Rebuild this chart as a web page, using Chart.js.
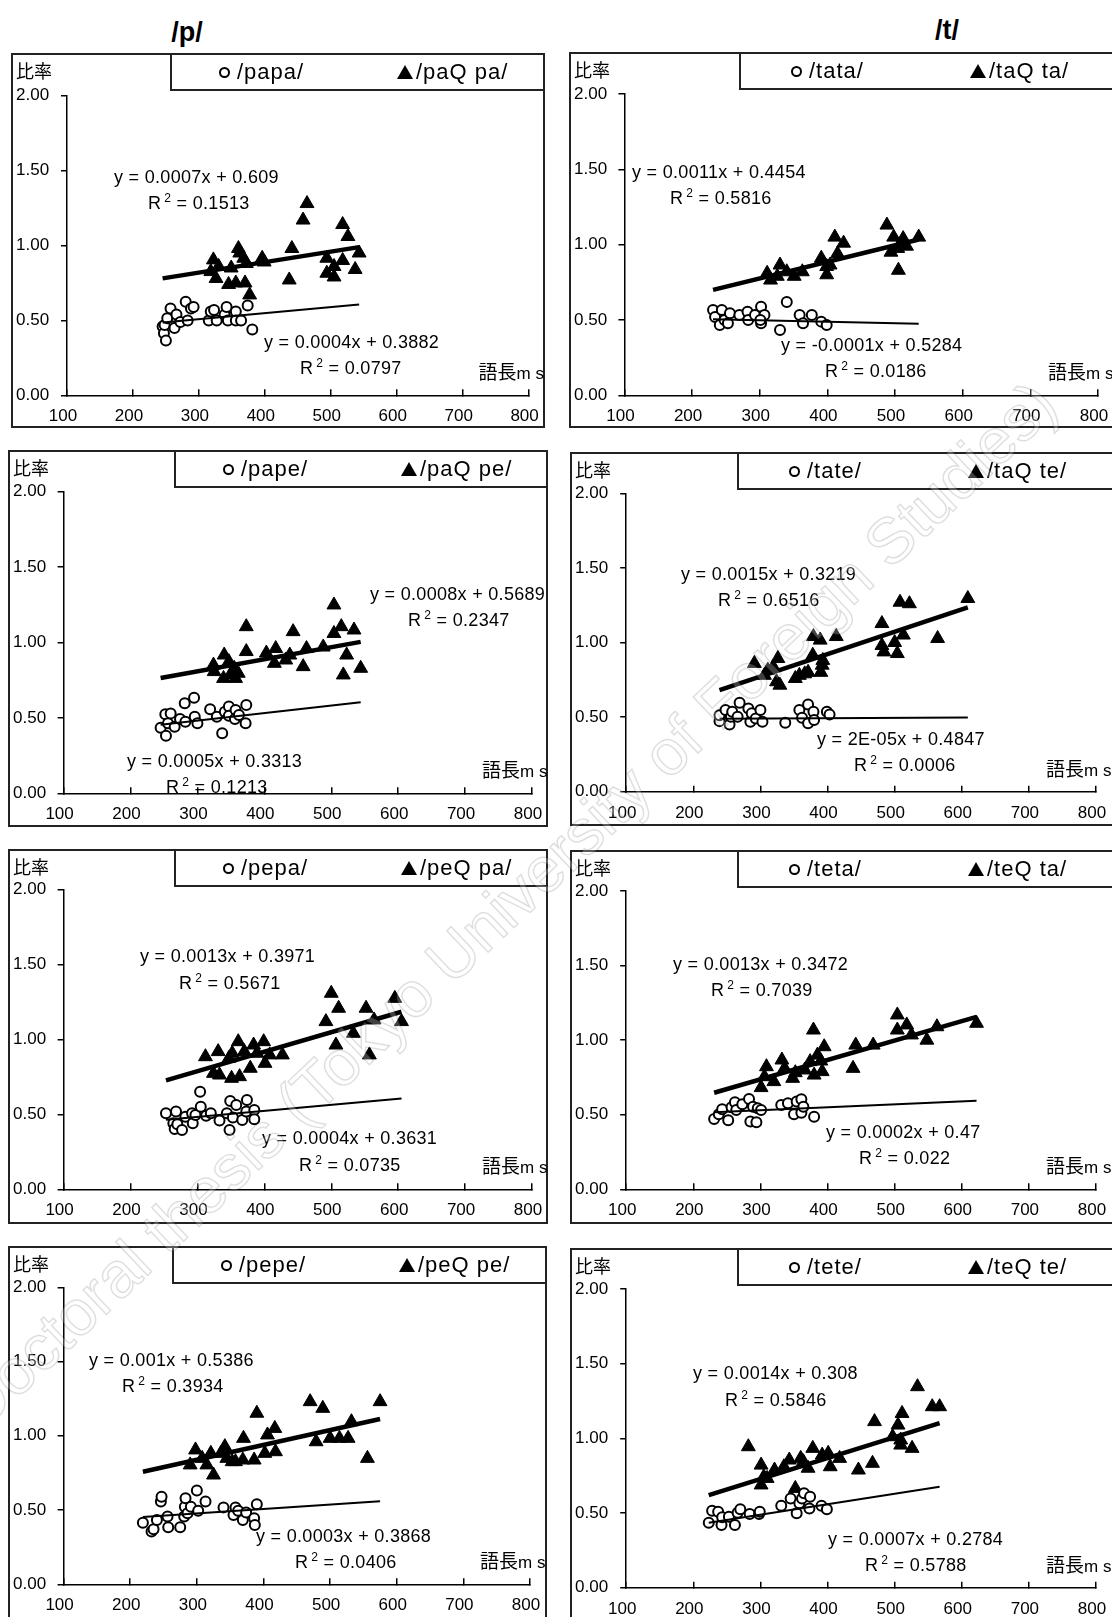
<!DOCTYPE html>
<html>
<head>
<meta charset="utf-8">
<script src="https://cdn.jsdelivr.net/npm/chart.js@4.4.1/dist/chart.umd.min.js"></script>
<style>
  body {
    margin: 0;
    width: 1112px;
    height: 1617px;
    overflow: hidden;
    background: #fff;
    position: relative;
    font-family: "Liberation Sans", Arial, sans-serif;
    color: #000;
  }
  .title { position: absolute; font-size: 27px; font-weight: bold; transform: translate(-50%, -50%); }
  .frame { position: absolute; border: 2px solid #222; box-sizing: border-box; background: #fff; }
  .frame canvas { position: absolute; left: 0; top: 0; }
  .legend { position: absolute; top: -2px; right: -2px; height: 38px; border: 2px solid #222; box-sizing: border-box; background: #fff; }
  .legtext { position: absolute; top: 0; line-height: 34px; font-size: 22px; letter-spacing: 1px; white-space: nowrap; }
  .circ { position: absolute; width: 11px; height: 11px; border: 2px solid #000; border-radius: 50%; box-sizing: border-box; top: 12px; }
  .tri { position: absolute; width: 0; height: 0; border-left: 8px solid transparent; border-right: 8px solid transparent; border-bottom: 14px solid #000; top: 10px; }
  .ratio { position: absolute; left: 3px; top: 4px; font-family: "Noto Sans CJK JP", sans-serif; font-size: 18px; line-height: 22px; }
  .unit { position: absolute; font-family: "Noto Sans CJK JP", sans-serif; font-size: 19px; line-height: 22px; white-space: nowrap; }
  .unit span { font-family: "Liberation Sans", Arial, sans-serif; font-size: 17px; }
  .eq { position: absolute; font-size: 18px; line-height: 20px; letter-spacing: 0.3px; white-space: nowrap; }
  .eq .sup { position: relative; top: -7px; font-size: 12px; margin: 0 0 0 3px; }
  .mark { position: absolute; left: 506px; top: 905px; transform: translate(-50%, -50%) rotate(-43.5deg);
    font-size: 64px; white-space: nowrap; color: rgba(255,255,255,0.25); -webkit-text-stroke: 1.5px rgba(0,0,0,0.13); pointer-events: none; }
</style>
</head>
<body>
<script>
// x = 語長 (ms), y = 比率 ; circles = plain word, triangles = geminate word
var papaPts = [[245,0.46],[247,0.415],[250,0.365],[248,0.47],[252,0.515],[257,0.58],[263,0.45],[266,0.54],[272,0.49],[280,0.625],[283,0.50],[288,0.58],[292,0.59],[315,0.50],[318,0.56],[323,0.57],[327,0.50],[339,0.537],[342,0.59],[344,0.50],[356,0.56],[356,0.50],[364,0.50],[374,0.60],[381,0.44]];
var paQpaPts = [[322,0.904],[318,0.826],[326,0.78],[330,0.86],[349,0.85],[345,0.74],[356,0.75],[360,0.98],[362,0.95],[368,0.915],[370,0.75],[377,0.67],[372,0.88],[396,0.915],[399,0.89],[437,0.77],[441,0.98],[458,1.17],[464,1.28],[494,0.915],[494,0.815],[505,0.86],[505,0.79],[518,0.90],[518,1.14],[526,1.06],[537,0.84],[543,0.95]];
var tataPts = [[231,0.566],[234,0.52],[241,0.467],[244,0.566],[248,0.50],[253,0.478],[256,0.544],[270,0.533],[282,0.555],[283,0.50],[293,0.533],[302,0.588],[302,0.478],[307,0.533],[301,0.50],[330,0.434],[340,0.62],[359,0.533],[364,0.478],[377,0.533],[391,0.489],[399,0.467]];
var taQtaPts = [[311,0.81],[316,0.765],[330,0.865],[326,0.79],[340,0.82],[351,0.79],[363,0.82],[391,0.91],[399,0.855],[399,0.80],[404,0.865],[411,1.05],[415,0.94],[424,1.01],[488,1.13],[494,0.95],[498,1.05],[505,0.83],[512,1.04],[517,0.99],[504,0.975],[535,1.05]];
var papePts = [[245,0.435],[252,0.524],[253,0.382],[256,0.464],[260,0.53],[266,0.442],[274,0.493],[281,0.597],[282,0.475],[295,0.634],[296,0.508],[300,0.464],[319,0.557],[329,0.508],[337,0.398],[341,0.541],[347,0.575],[347,0.515],[357,0.552],[356,0.493],[362,0.519],[373,0.585],[372,0.464]];
var paQpePts = [[324,0.85],[325,0.807],[340,0.917],[339,0.762],[347,0.873],[349,0.785],[355,0.829],[357,0.762],[361,0.796],[373,1.105],[373,0.94],[403,0.93],[415,0.862],[417,0.96],[432,0.884],[438,0.917],[443,1.072],[458,0.84],[463,0.96],[488,0.97],[504,1.249],[504,1.06],[515,1.105],[523,0.917],[518,0.785],[534,1.083],[544,0.829]];
var tatePts = [[239,0.473],[239,0.513],[248,0.547],[254,0.45],[256,0.502],[258,0.536],[269,0.596],[266,0.502],[282,0.558],[285,0.469],[287,0.525],[293,0.491],[300,0.547],[303,0.469],[337,0.462],[358,0.547],[362,0.496],[371,0.585],[371,0.458],[379,0.536],[380,0.48],[399,0.536],[403,0.518]];
var taQtePts = [[291,0.86],[306,0.78],[311,0.815],[319,0.837],[326,0.893],[324,0.737],[329,0.714],[352,0.759],[358,0.78],[366,0.79],[371,0.80],[378,0.915],[379,1.04],[389,1.016],[390,0.80],[392,0.848],[393,0.88],[413,1.04],[481,1.127],[481,0.98],[484,0.937],[500,1.00],[504,0.926],[508,1.27],[513,1.05],[522,1.26],[564,1.027],[609,1.295]];
var pepaPts = [[253,0.507],[264,0.44],[266,0.402],[268,0.518],[270,0.433],[277,0.396],[282,0.484],[292,0.507],[293,0.44],[297,0.496],[304,0.651],[305,0.551],[313,0.491],[320,0.507],[333,0.458],[344,0.507],[348,0.396],[349,0.589],[353,0.478],[358,0.562],[367,0.462],[373,0.518],[374,0.596],[385,0.529],[385,0.467]];
var peQpaPts = [[312,0.884],[324,0.773],[331,0.918],[333,0.762],[347,0.873],[352,0.907],[351,0.74],[361,0.984],[363,0.751],[370,0.918],[379,0.807],[384,0.962],[389,0.907],[399,0.984],[401,0.84],[408,0.896],[427,0.896],[492,1.118],[500,1.307],[507,0.962],[511,1.207],[533,1.04],[552,1.207],[557,0.896],[564,1.129],[595,1.273],[605,1.118]];
var tetaPts = [[231,0.472],[238,0.503],[243,0.536],[252,0.463],[257,0.55],[262,0.583],[264,0.532],[273,0.57],[283,0.606],[285,0.454],[289,0.554],[294,0.449],[296,0.543],[301,0.532],[331,0.565],[341,0.577],[350,0.503],[354,0.588],[361,0.603],[361,0.514],[364,0.554],[380,0.487]];
var teQtaPts = [[301,0.682],[306,0.755],[309,0.822],[320,0.722],[332,0.867],[336,0.811],[348,0.744],[352,0.782],[366,0.80],[374,0.856],[379,1.068],[380,0.766],[385,0.90],[390,0.86],[392,0.789],[395,0.956],[438,0.811],[442,0.967],[468,0.967],[504,1.169],[504,1.068],[518,1.102],[525,1.035],[548,1.00],[563,1.09],[622,1.113]];
var pepePts = [[219,0.415],[232,0.355],[235,0.37],[240,0.433],[246,0.557],[247,0.59],[256,0.456],[257,0.384],[275,0.384],[281,0.456],[282,0.523],[283,0.579],[286,0.478],[291,0.523],[300,0.631],[302,0.496],[313,0.557],[340,0.518],[355,0.467],[358,0.518],[362,0.496],[369,0.433],[374,0.483],[386,0.444],[387,0.40],[390,0.539]];
var peQpePts = [[290,0.804],[298,0.905],[308,0.848],[315,0.804],[321,0.882],[325,0.736],[336,0.882],[342,0.927],[345,0.848],[353,0.826],[358,0.826],[369,0.837],[370,0.983],[386,0.837],[390,1.152],[402,0.882],[406,1.006],[417,1.05],[418,0.893],[470,1.23],[479,0.96],[489,1.185],[500,0.983],[514,0.983],[527,0.983],[532,1.095],[556,0.848],[575,1.23]];
var tetePts = [[223,0.435],[228,0.516],[237,0.509],[242,0.42],[243,0.471],[253,0.475],[262,0.42],[266,0.502],[270,0.525],[284,0.493],[298,0.493],[299,0.509],[331,0.549],[345,0.598],[354,0.498],[358,0.565],[362,0.598],[365,0.632],[374,0.609],[373,0.531],[391,0.549],[399,0.525]];
var teQtePts = [[282,0.944],[301,0.821],[305,0.743],[301,0.688],[310,0.732],[321,0.788],[335,0.81],[343,0.855],[360,0.866],[364,0.844],[371,0.80],[378,0.933],[392,0.888],[401,0.90],[404,0.81],[418,0.866],[446,0.788],[467,0.833],[470,1.112],[497,1.011],[505,1.089],[509,0.989],[511,1.167],[509,0.955],[526,0.933],[534,1.346],[556,1.212],[567,1.212],[352,0.665]];

// panels in reading order: /papa/ /tata/ /pape/ /tate/ /pepa/ /teta/ /pepe/ /tete/
var plainSeries = [papaPts, tataPts, papePts, tatePts, pepaPts, tetaPts, pepePts, tetePts];
var gemSeries = [paQpaPts, taQtaPts, paQpePts, taQtePts, peQpaPts, teQtaPts, peQpePts, teQtePts];
var plainLabels = ["/papa/", "/tata/", "/pape/", "/tate/", "/pepa/", "/teta/", "/pepe/", "/tete/"];
var gemLabels = ["/paQ pa/", "/taQ ta/", "/paQ pe/", "/taQ te/", "/peQ pa/", "/teQ ta/", "/peQ pe/", "/teQ te/"];

// trend lines y = slope*x + intercept
var plainSlope = [0.0004, -0.0001, 0.0005, 0.00002, 0.0004, 0.0002, 0.0003, 0.0007];
var plainSlopeText = ["0.0004", "-0.0001", "0.0005", "2E-05", "0.0004", "0.0002", "0.0003", "0.0007"];
var plainIntercept = [0.3882, 0.5284, 0.3313, 0.4847, 0.3631, 0.47, 0.3868, 0.2784];
var plainR2 = ["0.0797", "0.0186", "0.1213", "0.0006", "0.0735", "0.022", "0.0406", "0.5788"];
var gemSlope = [0.0007, 0.0011, 0.0008, 0.0015, 0.0013, 0.0013, 0.001, 0.0014];
var gemSlopeText = ["0.0007", "0.0011", "0.0008", "0.0015", "0.0013", "0.0013", "0.001", "0.0014"];
var gemIntercept = [0.609, 0.4454, 0.5689, 0.3219, 0.3971, 0.3472, 0.5386, 0.308];
var gemR2 = ["0.1513", "0.5816", "0.2347", "0.6516", "0.5671", "0.7039", "0.3934", "0.5846"];

var xTicks = [100, 200, 300, 400, 500, 600, 700, 800];
var yTicks = [0, 0.5, 1, 1.5, 2];
var columnTitles = ["/p/", "/t/"];

// ---- layout (page px) ----
var frames = [[11,53,534,375],[569,52,552,376],[8,450,540,377],[570,452,552,374],[8,849,540,375],[570,850,552,374],[8,1246,539,376],[570,1248,552,376]];
var plots = [[67,95.7,528.6,395.3],[624.4,94,1098,395.3],[63.6,491.7,532,793.3],[626.2,493.3,1096,791.7],[63.6,889.3,532,1189.3],[626.2,891,1096,1189.3],[63.6,1287.3,530,1584.3],[626.2,1289,1096,1587.7]];
var legendLeft = [170, 739, 174, 737, 174, 737, 172, 737];
var gemEqPos = [[114,176.7,148,203.3],[632,171.7,670,198.3],[370,594,408,620],[681,574,718,600],[140,956,179,982.7],[673,964,711,990],[89,1360,122,1385.7],[693,1373.3,725,1400]];
var plainEqPos = [[264,342.3,300,368.3],[781,345,825,371],[127,761,166,786.7],[817,739,854,765],[262,1138.3,299,1165],[826,1132.3,859,1158.3],[256,1536,295,1561.7],[828,1539,865,1565]];
var titlePos = [[187, 32], [947, 30]];

var FONT = '"Liberation Sans", Arial, sans-serif';

function el(tag, cls, parent) {
  var e = document.createElement(tag);
  if (cls) e.className = cls;
  (parent || document.body).appendChild(e);
  return e;
}

function toXY(pts) {
  return pts.map(function (p) { return { x: p[0], y: p[1] }; });
}

function trendLine(pts, slope, intercept) {
  var xs = pts.map(function (p) { return p[0]; });
  var lo = Math.min.apply(null, xs);
  var hi = Math.max.apply(null, xs);
  return [{ x: lo, y: slope * lo + intercept }, { x: hi, y: slope * hi + intercept }];
}

function addEquation(pos, slopeText, intercept, r2) {
  var a = el("div", "eq");
  a.textContent = "y = " + slopeText + "x + " + intercept;
  a.style.left = pos[0] + "px";
  a.style.top = (pos[1] - 10) + "px";
  var b = el("div", "eq");
  b.innerHTML = 'R<span class="sup">2</span> = ' + r2;
  b.style.left = pos[2] + "px";
  b.style.top = (pos[3] - 10) + "px";
}

function makePanel(i) {
  var f = frames[i], p = plots[i];
  var frame = el("div", "frame");
  frame.style.left = f[0] + "px";
  frame.style.top = f[1] + "px";
  frame.style.width = f[2] + "px";
  frame.style.height = f[3] + "px";

  var ox = f[0] + 2, oy = f[1] + 2;
  var cw = f[2] - 4, ch = f[3] - 4;
  var canvas = el("canvas", "", frame);
  canvas.width = cw;
  canvas.height = ch;

  var right = i % 2 === 1;
  var legend = el("div", "legend", frame);
  legend.style.left = (legendLeft[i] - f[0] - 2) + "px";
  var off1 = right ? 57 : 54, off2 = right ? 239 : 235;
  var c = el("span", "circ", legend);
  c.style.left = (off1 - 2 - 5.5) + "px";
  var t1 = el("span", "legtext", legend);
  t1.textContent = plainLabels[i];
  t1.style.left = (off1 - 2 + 13) + "px";
  var tr = el("span", "tri", legend);
  tr.style.left = (off2 - 2 - 8) + "px";
  var t2 = el("span", "legtext", legend);
  t2.textContent = gemLabels[i];
  t2.style.left = (off2 - 2 + 11) + "px";

  var ratio = el("div", "ratio", frame);
  ratio.textContent = "比率";

  var unit = el("div", "unit");
  unit.innerHTML = "語長<span>m s</span>";
  unit.style.left = (p[2] - 50) + "px";
  unit.style.top = (p[3] - 24 - 11) + "px";

  var allPts = plainSeries[i].concat(gemSeries[i]);

  new Chart(canvas.getContext("2d"), {
    type: "scatter",
    data: {
      datasets: [
        {
          type: "line",
          data: trendLine(allPts, gemSlope[i], gemIntercept[i]),
          borderColor: "#000",
          borderWidth: 4.5,
          pointRadius: 0,
          order: 0
        },
        {
          type: "line",
          data: trendLine(allPts, plainSlope[i], plainIntercept[i]),
          borderColor: "#000",
          borderWidth: 2,
          pointRadius: 0,
          order: 0
        },
        {
          data: toXY(plainSeries[i]),
          pointStyle: "circle",
          pointRadius: 5,
          borderWidth: 2,
          borderColor: "#000",
          backgroundColor: "#fff",
          order: 1
        },
        {
          data: toXY(gemSeries[i]),
          pointStyle: "triangle",
          pointRadius: 8,
          borderWidth: 1,
          borderColor: "#000",
          backgroundColor: "#000",
          order: 1
        }
      ]
    },
    options: {
      responsive: false,
      animation: false,
      events: [],
      layout: {
        padding: { left: 3, top: p[1] - oy, right: ox + cw - p[2], bottom: 0 }
      },
      plugins: { legend: { display: false }, tooltip: { enabled: false } },
      scales: {
        x: {
          type: "linear",
          min: xTicks[0],
          max: xTicks[xTicks.length - 1],
          afterFit: function (s) {
            s.height = oy + ch - p[3];
            s.paddingLeft = 0;
            s.paddingRight = 0;
          },
          afterBuildTicks: function (s) { s.ticks = xTicks.map(function (v) { return { value: v }; }); },
          border: { color: "#000", width: 1.5 },
          grid: { drawOnChartArea: false, tickLength: -6, color: "#000", lineWidth: 1.5 },
          ticks: { padding: 17, labelOffset: -4, color: "#000", font: { family: FONT, size: 17 }, maxRotation: 0, autoSkip: false }
        },
        y: {
          min: yTicks[0],
          max: yTicks[yTicks.length - 1],
          afterFit: function (s) { s.width = p[0] - ox - 3; },
          afterBuildTicks: function (s) { s.ticks = yTicks.map(function (v) { return { value: v }; }); },
          border: { color: "#000", width: 1.5 },
          grid: { drawOnChartArea: false, tickLength: 6, color: "#000", lineWidth: 1.5 },
          ticks: {
            crossAlign: "far",
            color: "#000",
            font: { family: FONT, size: 17 },
            callback: function (v) { return Number(v).toFixed(2); }
          }
        }
      }
    }
  });

  addEquation(gemEqPos[i], gemSlopeText[i], gemIntercept[i], gemR2[i]);
  addEquation(plainEqPos[i], plainSlopeText[i], plainIntercept[i], plainR2[i]);
}

columnTitles.forEach(function (t, k) {
  var d = el("div", "title");
  d.textContent = t;
  d.style.left = titlePos[k][0] + "px";
  d.style.top = titlePos[k][1] + "px";
});

for (var i = 0; i < 8; i++) makePanel(i);

var mark = el("div", "mark");
mark.textContent = "Doctoral thesis (Tokyo University of Foreign Studies)";
</script>
</body>
</html>
